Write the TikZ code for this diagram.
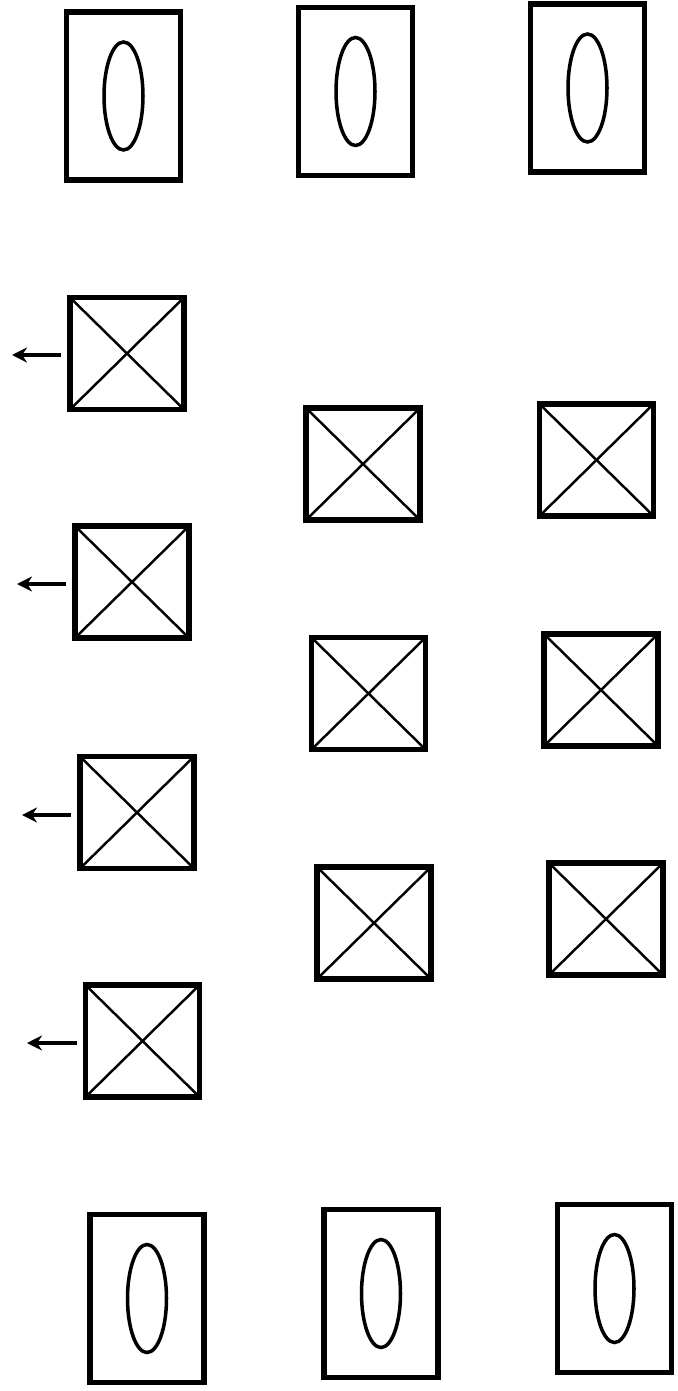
\documentclass[tikz,border=0pt]{standalone}
\usetikzlibrary{arrows.meta, shapes.geometric}
\tikzset{
  slotbox/.style={draw, line width=3.3pt, minimum width=2.28cm,
                  minimum height=3.36cm, inner sep=0pt},
  slot/.style={draw, ellipse, line width=2pt, minimum width=0.78cm,
               minimum height=2.16cm, inner sep=0pt},
  crossbox/.style={draw, line width=3.3pt, minimum width=2.28cm,
                   minimum height=2.24cm, inner sep=0pt, outer sep=0pt},
  diag/.style={line width=1.4pt},
  lead/.style={line width=2pt, -{Stealth[length=3mm,width=3mm]},
               shorten <=1.8mm}
}

\begin{document}
\begin{tikzpicture}[x=0.02cm, y=-0.02cm]
  \useasboundingbox (0,0) rectangle (677,1391);
  % slotted plates, top and bottom rows
  \foreach \n/\px/\py in {t1/123.5/96, t2/355.5/91.5, t3/587.5/88,
                          b1/147/1298.5, b2/381/1293.5, b3/614.5/1288.5} {
    \node[slotbox] (\n) at (\px,\py) {};
    \node[slot] (\n-slot) at (\n) {};
  }
  % crossed boxes
  \foreach \n/\px/\py in {l1/127/353.5, l2/132/582, l3/137/812.5, l4/142.5/1041,
                          m1/363/464, m2/368.5/693.5, m3/374/923,
                          r1/596.5/460, r2/601/690, r3/606/919} {
    \node[crossbox] (\n) at (\px,\py) {};
    \draw[diag] (\n.north west) -- (\n.south east);
    \draw[diag] (\n.north east) -- (\n.south west);
  }
  % arrows off the left column
  \foreach \n/\px/\py in {l1/12/355, l2/17/584, l3/22/815, l4/27/1043} {
    \coordinate (\n-tip) at (\px,\py);
    \draw[lead] (\n.west |- \n-tip) -- (\n-tip);
  }
\end{tikzpicture}
\end{document}
